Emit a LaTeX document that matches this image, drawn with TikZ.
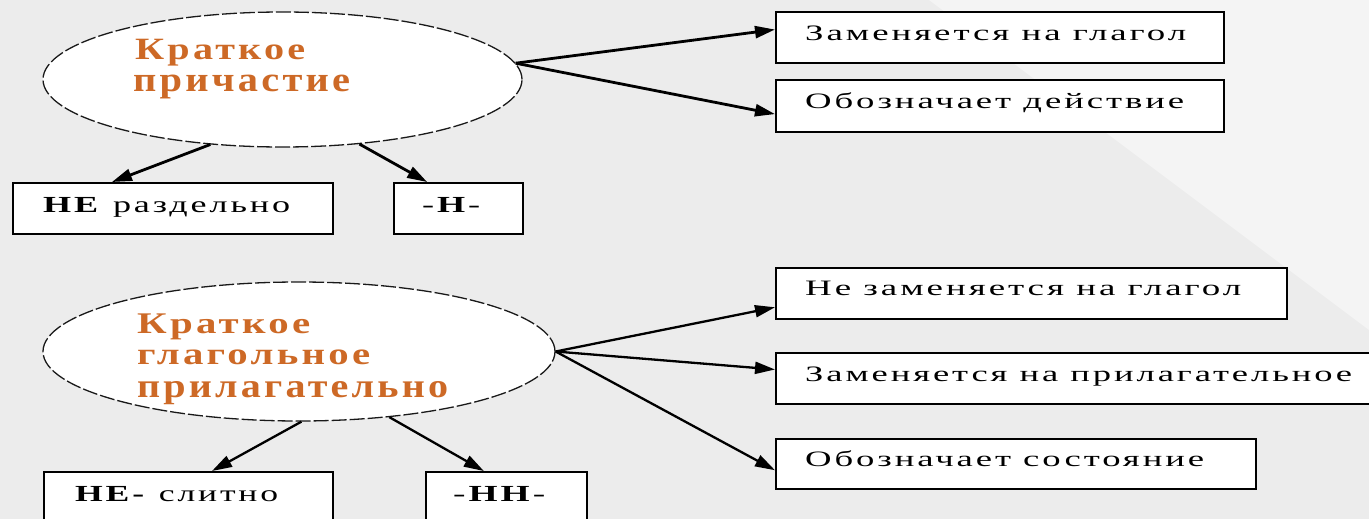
\documentclass[tikz,border=0pt]{standalone}
\usepackage{fontspec}
\usepackage{graphicx}
\setmainfont{Liberation Serif}
\newfontfamily\spfont[LetterSpace=8]{Liberation Serif}
\usetikzlibrary{arrows.meta,shapes.geometric,calc}
\definecolor{orangetxt}{RGB}{205,105,38}
\definecolor{bgA}{HTML}{ECECEC}
\definecolor{bgB}{HTML}{F4F4F4}
\newcommand\fitw[2]{\resizebox{#1pt}{\height}{#2}}
\begin{document}
\begin{tikzpicture}[x=1pt,y=-1pt,
  oval/.style={ellipse, draw=black!90, line width=1.3pt, dash pattern=on 15pt off 3pt, fill=white, inner sep=0pt},
  rbox/.style={draw=black, line width=2.4pt, fill=white, inner sep=0pt, anchor=north west},
  lbl/.style={anchor=base west, inner sep=0pt, font=\spfont},
  olbl/.style={anchor=base west, inner sep=0pt, text=orangetxt, font=\spfont\bfseries},
  arr/.style={-{Triangle[length=20pt,width=12pt]}, line width=2.8pt, black},
]
\clip (0,0) rectangle (1369,519);
% background
\fill[bgA] (0,0) rectangle (1369,519);
\fill[bgB] (929,0) -- (1369,0) -- (1369,330) -- cycle;

% top group
\node[oval, minimum width=479pt, minimum height=135pt] (e1) at (282.5,79.5) {};
\node[rbox, minimum width=320pt, minimum height=51pt] (b1) at (12,182) {};
\node[rbox, minimum width=129pt, minimum height=51pt] (b2) at (393,182) {};
\node[rbox, minimum width=448pt, minimum height=51pt, line width=2pt] (r1) at (775,11) {};
\node[rbox, minimum width=448pt, minimum height=52pt, line width=2pt] (r2) at (775,79) {};

\draw[arr] (e1.222) -- ($(b1.north west)!0.31!(b1.north east)$);
\draw[arr] (e1.320) -- ($(b2.north west)!0.26!(b2.north east)$);
\draw[arr] (e1.4) -- ($(r1.north west)!0.35!(r1.south west)$);
\draw[arr] (e1.4) -- ($(r2.north west)!0.65!(r2.south west)$);

\node[olbl] (t1) at (135,60) {\fontsize{31pt}{33pt}\selectfont\fitw{170}{Краткое}};
\node[olbl] (t2) at (133,92) {\fontsize{35pt}{37pt}\selectfont\fitw{217}{причастие}};
\node[lbl] (tb1) at (43,212) {\fontsize{23pt}{25pt}\selectfont\fitw{247}{\textbf{НЕ} раздельно}};
\node[lbl] (tb2) at (422,212) {\fontsize{23pt}{25pt}\selectfont\fitw{58}{-\textbf{Н}-}};
\node[lbl] (tr1) at (805,41) {\fontsize{22pt}{24pt}\selectfont\fitw{381}{Заменяется на глагол}};
\node[lbl] (tr2) at (805,108) {\fontsize{22pt}{24pt}\selectfont\fitw{379}{Обозначает действие}};

% bottom group
\node[oval, minimum width=512pt, minimum height=139pt] (e2) at (299,351.5) {};
\node[rbox, minimum width=289pt, minimum height=70pt] (c1) at (43,471) {};
\node[rbox, minimum width=161pt, minimum height=70pt] (c2) at (425,471) {};
\node[rbox, minimum width=511pt, minimum height=51pt, line width=2pt] (s1) at (775,267) {};
\node[rbox, minimum width=620pt, minimum height=51pt, line width=2pt] (s2) at (775,352) {};
\node[rbox, minimum width=480pt, minimum height=50pt, line width=2pt] (s3) at (775,438) {};

\draw[arr, line width=2.3pt] (e2.272) -- ($(c1.north west)!0.58!(c1.north east)$);
\draw[arr, line width=2.3pt] (e2.324) -- ($(c2.north west)!0.36!(c2.north east)$);
\draw[arr, line width=2.3pt] (e2.east) -- ($(s1.north west)!0.76!(s1.south west)$);
\draw[arr, line width=2.3pt] (e2.east) -- ($(s2.north west)!0.33!(s2.south west)$);
\draw[arr, line width=2.3pt] (e2.east) -- ($(s3.north west)!0.62!(s3.south west)$);

\node[olbl] (t3) at (137,333) {\fontsize{30pt}{32pt}\selectfont\fitw{173}{Краткое}};
\node[olbl] (t4) at (137,364) {\fontsize{31pt}{33pt}\selectfont\fitw{233}{глагольное}};
\node[olbl] (t5) at (137,397) {\fontsize{34pt}{36pt}\selectfont\fitw{311}{прилагательно}};
\node[lbl] (tc1) at (75,501) {\fontsize{23pt}{25pt}\selectfont\fitw{203}{\textbf{НЕ-} слитно}};
\node[lbl] (tc2) at (453,501) {\fontsize{23pt}{25pt}\selectfont\fitw{92}{-\textbf{НН}-}};
\node[lbl] (ts1) at (805,295) {\fontsize{22pt}{24pt}\selectfont\fitw{436}{Не заменяется на глагол}};
\node[lbl] (ts2) at (805,381) {\fontsize{22pt}{24pt}\selectfont\fitw{547}{Заменяется на прилагательное}};
\node[lbl] (ts3) at (805,466) {\fontsize{22pt}{24pt}\selectfont\fitw{399}{Обозначает состояние}};
\end{tikzpicture}
\end{document}
